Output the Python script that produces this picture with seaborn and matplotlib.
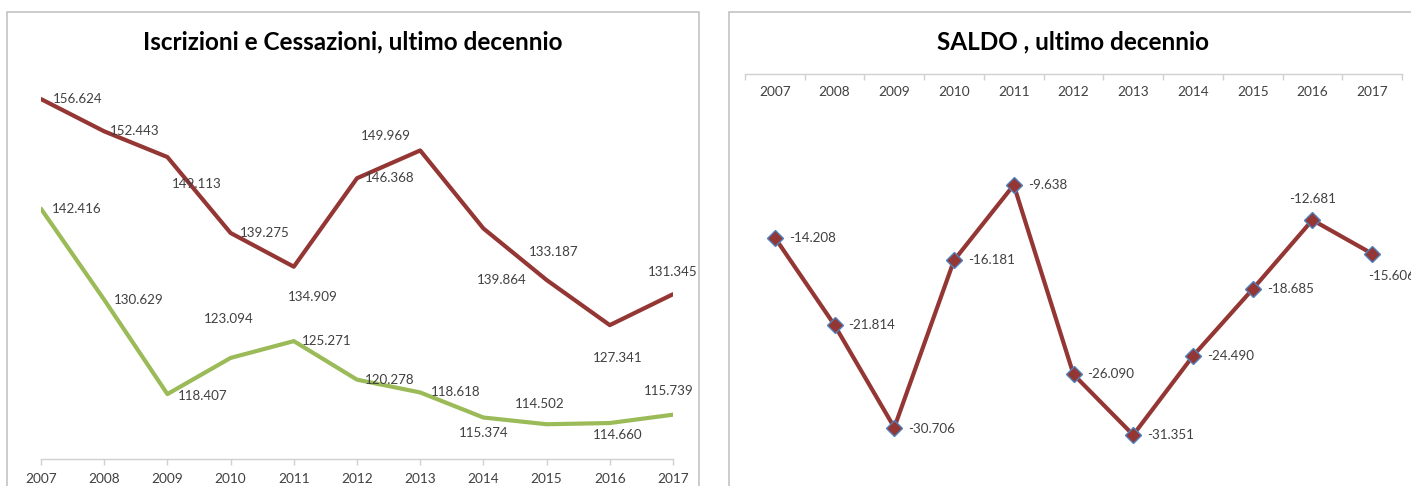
import matplotlib
matplotlib.use("Agg")
import matplotlib.pyplot as plt
from matplotlib.patches import Rectangle
import seaborn as sns
import pandas as pd

# ---------------- data ----------------
years = ["2007", "2008", "2009", "2010", "2011", "2012", "2013", "2014", "2015", "2016", "2017"]
cessazioni = [156.624, 152.443, 149.113, 139.275, 134.909, 146.368, 149.969, 139.864, 133.187, 127.341, 131.345]
iscrizioni = [142.416, 130.629, 118.407, 123.094, 125.271, 120.278, 118.618, 115.374, 114.502, 114.660, 115.739]
saldo = [-14.208, -21.814, -30.706, -16.181, -9.638, -26.090, -31.351, -24.490, -18.685, -12.681, -15.606]

title_left = "Iscrizioni e Cessazioni, ultimo decennio"
title_right = "SALDO , ultimo decennio"

# ---------------- style ----------------
sns.set_theme(style="white")
plt.rcParams["font.family"] = ["Lato", "DejaVu Sans"]

RED = "#943634"
GREEN = "#9BBB59"
BLUE_EDGE = "#4F81BD"
TXT = "#404040"
AX = "#D0D0D0"
BORDER = "#C4C4C4"

W, H = 1411, 486
fig = plt.figure(figsize=(W / 100, H / 100), dpi=100)
fig.patch.set_facecolor("white")

def fx(px):
    return px / W

def fy(py):
    return 1 - py / H

# panel borders
fig.patches.append(Rectangle((fx(7), fy(530)), fx(692), (530 - 12) / H, transform=fig.transFigure,
                             fill=False, edgecolor=BORDER, lw=1.2, zorder=0))
fig.patches.append(Rectangle((fx(729), fy(530)), fx(700), (530 - 12) / H, transform=fig.transFigure,
                             fill=False, edgecolor=BORDER, lw=1.2, zorder=0))

fig.text(fx(353), fy(42), title_left, ha="center", va="center", fontsize=17.5, fontweight="bold", color="black")
fig.text(fx(1073), fy(42), title_right, ha="center", va="center", fontsize=17.5, fontweight="bold", color="black")

def fmt(v):
    return f"{v:.3f}"

LBL = 9.6
TICK = 9.8

# ---------------- left panel ----------------
axL = fig.add_axes([fx(41), fy(459), fx(673 - 41), (459 - 73) / H])
df = pd.DataFrame({"x": list(range(len(years))) * 2,
                   "v": cessazioni + iscrizioni,
                   "s": ["Cessazioni"] * len(years) + ["Iscrizioni"] * len(years)})
sns.lineplot(data=df, x="x", y="v", hue="s", palette={"Cessazioni": RED, "Iscrizioni": GREEN},
             lw=3.0, ax=axL, legend=False, sort=False)
axL.set_xlim(0, len(years) - 1)
axL.set_ylim(110, 160)
axL.set_xticks(range(len(years)))
axL.set_xticklabels(years)
axL.set_yticks([])
axL.set_xlabel("")
axL.set_ylabel("")
for s in ["top", "right", "left"]:
    axL.spines[s].set_visible(False)
axL.spines["bottom"].set_color(AX)
axL.spines["bottom"].set_linewidth(1.0)
axL.tick_params(axis="x", direction="out", length=4, width=1, color=AX, labelsize=TICK,
                labelcolor=TXT, pad=6, bottom=True)
axL.set_facecolor("none")

# label offsets in pixels (dx, dy downward)
off_red = [(37, 0), (31, 0), (29, 27), (34, 0), (19, 30), (33, 0), (-34, -14), (18, 52), (7, -28), (8, 33), (0, -22)]
off_green = [(36, 0), (35, 0), (35, 2), (-2, -39), (33, 0), (33, 0), (36, 0), (0, 15), (-7, -20), (8, 12), (-4, -24)]
for i, v in enumerate(cessazioni):
    dx, dy = off_red[i]
    axL.annotate(fmt(v), (i, v), xytext=(dx * 0.72, -dy * 0.72), textcoords="offset points",
                 ha="center", va="center", fontsize=LBL, color=TXT, annotation_clip=False)
for i, v in enumerate(iscrizioni):
    dx, dy = off_green[i]
    axL.annotate(fmt(v), (i, v), xytext=(dx * 0.72, -dy * 0.72), textcoords="offset points",
                 ha="center", va="center", fontsize=LBL, color=TXT, annotation_clip=False)

# ---------------- right panel ----------------
axR = fig.add_axes([fx(745), fy(477), fx(1402 - 745), (477 - 74) / H])
dfs = pd.DataFrame({"x": range(len(years)), "v": saldo})
sns.lineplot(data=dfs, x="x", y="v", color=RED, lw=3.0, marker="D", markersize=8,
             markerfacecolor=RED, markeredgecolor=BLUE_EDGE, markeredgewidth=1.0, ax=axR, sort=False)
axR.set_xlim(-0.5, len(years) - 0.5)
axR.set_ylim(-35, 0)
axR.set_xticks(range(len(years)))
axR.set_xticklabels(years)
axR.set_xticks([i + 0.5 for i in range(-1, len(years))], minor=True)
axR.set_yticks([])
axR.set_xlabel("")
axR.set_ylabel("")
for s in ["bottom", "right", "left"]:
    axR.spines[s].set_visible(False)
axR.spines["top"].set_color(AX)
axR.spines["top"].set_linewidth(1.0)
axR.tick_params(axis="x", which="major", length=0, labelsize=TICK, labelcolor=TXT,
                top=False, bottom=False, labeltop=True, labelbottom=False, pad=-13)
axR.tick_params(axis="x", which="minor", direction="in", length=4, width=1, color=AX,
                top=True, bottom=False)
for lab in axR.get_xticklabels():
    lab.set_va("center")
axR.set_facecolor("none")

off_s = [(14, 0, "left"), (14, 0, "left"), (14, 1, "left"), (14, 0, "left"), (14, 0, "left"),
         (14, 0, "left"), (14, 0, "left"), (14, 0, "left"), (14, 0, "left"), (0, -21, "center"),
         (-4, 22, "left")]
for i, v in enumerate(saldo):
    dx, dy, ha = off_s[i]
    axR.annotate(fmt(v), (i, v), xytext=(dx * 0.72, -dy * 0.72), textcoords="offset points",
                 ha=ha, va="center", fontsize=LBL, color=TXT, annotation_clip=False)

fig.savefig("out.png", dpi=100, facecolor="white")
